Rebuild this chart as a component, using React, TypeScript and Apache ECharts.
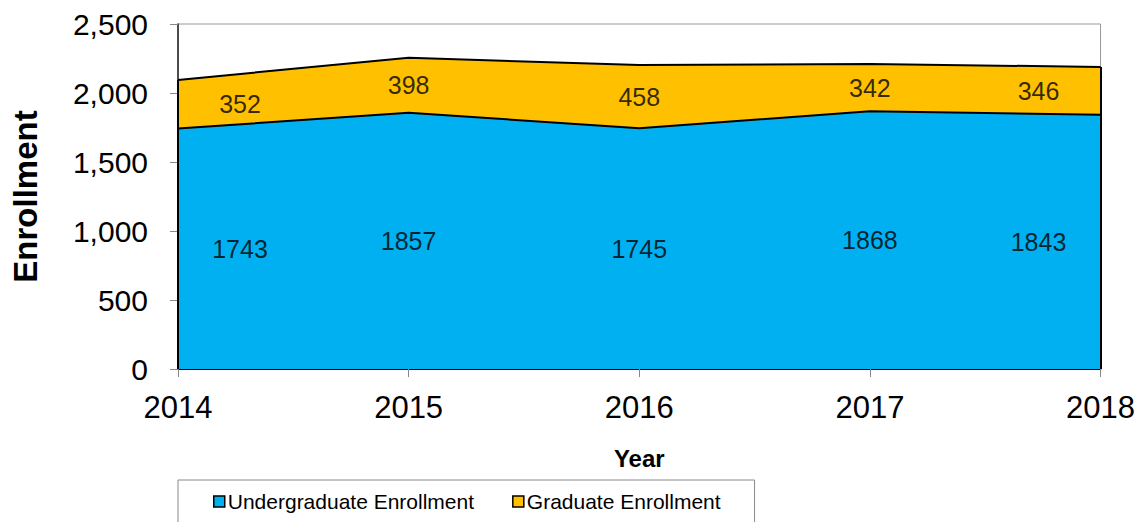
import React, { useEffect, useRef } from "react";
import * as echarts from "echarts";

const years = ["2014", "2015", "2016", "2017", "2018"];
const undergraduate = [1743, 1857, 1745, 1868, 1843];
const graduate = [352, 398, 458, 342, 346];
const yTicks = { min: 0, max: 2500, interval: 500 };
const labelShift = [62, 0, 0, 0, -62];

const FONT = "'Liberation Sans', Arial, sans-serif";
const BLUE = "#00B0F0";
const YELLOW = "#FFC000";

export default function App() {
  const ref = useRef<HTMLDivElement>(null);
  useEffect(() => {
    if (!ref.current) return;
    const chart = echarts.init(ref.current, null, { renderer: "svg" });
    const totals = undergraduate.map((u, i) => u + graduate[i]);
    const ugMid = undergraduate.map((u, i) => ({
      value: [years[i], u / 2],
      label: { offset: [labelShift[i], 0], formatter: String(u) },
    }));
    const grMid = graduate.map((g, i) => ({
      value: [years[i], undergraduate[i] + g / 2],
      label: { offset: [labelShift[i], 0], formatter: String(g) },
    }));
    const last = years.length - 1;
    chart.setOption({
      animation: false,
      textStyle: { fontFamily: FONT },
      grid: {
        left: 178,
        right: 37,
        top: 24,
        bottom: 153,
        show: true,
        borderColor: "#999",
        borderWidth: 1,
      },
      legend: {
        data: [
          { name: "Undergraduate Enrollment", itemStyle: { color: BLUE, borderColor: "#000", borderWidth: 1.5 } },
          { name: "Graduate Enrollment", itemStyle: { color: YELLOW, borderColor: "#000", borderWidth: 1.5 } },
        ],
        icon: "rect",
        itemWidth: 11,
        itemHeight: 11,
        itemGap: 38,
        left: 178,
        top: 480,
        padding: [11, 34, 30, 35],
        borderColor: "#888",
        borderWidth: 1,
        textStyle: { fontFamily: FONT, fontSize: 21, color: "#000", padding: [0, 0, 0, -2] },
      },
      xAxis: {
        type: "category",
        data: years,
        boundaryGap: false,
        name: "Year",
        nameLocation: "middle",
        nameGap: 77,
        nameTextStyle: { fontFamily: FONT, fontSize: 24, fontWeight: "bold", color: "#000" },
        axisLine: { lineStyle: { color: "#000", width: 2 } },
        axisTick: { show: true, length: 8, lineStyle: { color: "#888" } },
        axisLabel: { fontFamily: FONT, fontSize: 31, color: "#000", margin: 23 },
        splitLine: { show: false },
      },
      yAxis: {
        type: "value",
        min: yTicks.min,
        max: yTicks.max,
        interval: yTicks.interval,
        name: "Enrollment",
        nameLocation: "middle",
        nameGap: 136,
        nameTextStyle: { fontFamily: FONT, fontSize: 33, fontWeight: "bold", color: "#000" },
        axisLine: { show: true, lineStyle: { color: "#222", width: 1.5 } },
        axisTick: { show: true, length: 8, lineStyle: { color: "#888" } },
        axisLabel: {
          fontFamily: FONT,
          fontSize: 30,
          color: "#000",
          margin: 30,
          formatter: (v: number) => v.toLocaleString("en-US"),
        },
        splitLine: { show: false },
      },
      series: [
        {
          name: "Undergraduate Enrollment",
          type: "line",
          stack: "total",
          data: undergraduate,
          symbol: "none",
          lineStyle: { color: "#000", width: 2 },
          itemStyle: { color: BLUE },
          areaStyle: { color: BLUE, opacity: 1 },
          z: 2,
        },
        {
          name: "Graduate Enrollment",
          type: "line",
          stack: "total",
          data: graduate,
          symbol: "none",
          lineStyle: { color: "#000", width: 2 },
          itemStyle: { color: YELLOW },
          areaStyle: { color: YELLOW, opacity: 1 },
          z: 2,
          markLine: {
            silent: true,
            symbol: "none",
            label: { show: false },
            lineStyle: { color: "#000", width: 2, type: "solid" },
            data: [
              [{ coord: [years[0], 0] }, { coord: [years[0], totals[0]] }],
              [{ coord: [years[last], 0] }, { coord: [years[last], totals[last]] }],
            ],
          },
        },
        {
          name: "ugLabels",
          type: "scatter",
          data: ugMid,
          symbolSize: 0,
          silent: true,
          z: 5,
          label: { show: true, position: "inside", fontFamily: FONT, fontSize: 25, color: "#000" },
        },
        {
          name: "grLabels",
          type: "scatter",
          data: grMid,
          symbolSize: 0,
          silent: true,
          z: 5,
          label: { show: true, position: "inside", fontFamily: FONT, fontSize: 25, color: "#000" },
        },
      ],
    });
    return () => chart.dispose();
  }, []);
  return <div ref={ref} style={{ width: 1138, height: 522, position: "absolute", left: 0, top: 0 }} />;
}
